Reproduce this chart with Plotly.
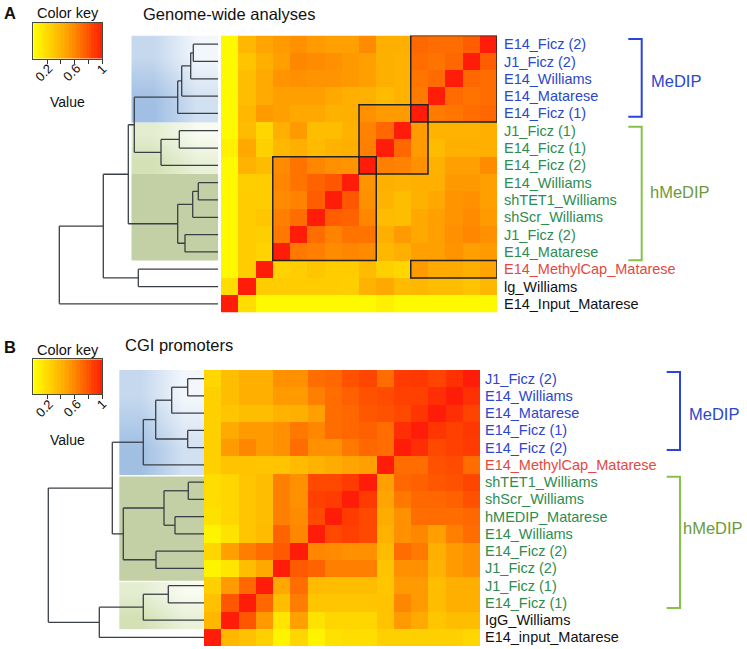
import numpy as np
import plotly.graph_objects as go

W, H = 747, 649
FONT = "Liberation Sans, Arial, Helvetica, sans-serif"

# ---- panel A: genome-wide analyses (rows top to bottom) ----
a_labels = ["E14_Ficz (2)", "J1_Ficz (2)", "E14_Williams", "E14_Matarese", "E14_Ficz (1)",
            "J1_Ficz (1)", "E14_Ficz (1)", "E14_Ficz (2)", "E14_Williams", "shTET1_Williams",
            "shScr_Williams", "J1_Ficz (2)", "E14_Matarese", "E14_MethylCap_Matarese",
            "lg_Williams", "E14_Input_Matarese"]
a_groups = ["MeDIP"] * 5 + ["hMeDIP"] * 8 + ["MethylCap", "ctrl", "ctrl"]

# correlation of each row with the columns left of the diagonal (as drawn)
a_tri = [
    [0.03, 0.38, 0.48, 0.52, 0.56, 0.52, 0.50, 0.50, 0.58, 0.42, 0.42, 0.72, 0.70, 0.70, 0.76],
    [0.03, 0.32, 0.42, 0.50, 0.60, 0.58, 0.56, 0.53, 0.50, 0.42, 0.40, 0.70, 0.68, 0.72],
    [0.03, 0.35, 0.45, 0.55, 0.56, 0.55, 0.55, 0.53, 0.50, 0.42, 0.40, 0.67, 0.71],
    [0.03, 0.35, 0.45, 0.50, 0.50, 0.50, 0.46, 0.42, 0.41, 0.36, 0.40, 0.65],
    [0.03, 0.38, 0.52, 0.50, 0.46, 0.46, 0.41, 0.42, 0.56, 0.52, 0.52],
    [0.03, 0.36, 0.22, 0.42, 0.52, 0.35, 0.35, 0.40, 0.62, 0.72],
    [0.08, 0.46, 0.25, 0.38, 0.42, 0.36, 0.40, 0.42, 0.63],
    [0.03, 0.40, 0.36, 0.58, 0.68, 0.60, 0.56, 0.55],
    [0.03, 0.26, 0.27, 0.60, 0.68, 0.74, 0.78],
    [0.03, 0.27, 0.27, 0.58, 0.62, 0.76],
    [0.03, 0.27, 0.30, 0.63, 0.70],
    [0.03, 0.27, 0.26, 0.66],
    [0.03, 0.27, 0.24],
    [0.03, 0.27],
    [0.18],
    [],
]

# hierarchical merges: (child, child, height); clusters numbered from 16
a_merges = [
    (0, 1, 0.247), (16, 2, 0.273), (17, 3, 0.363), (18, 4, 0.403),
    (5, 6, 0.387), (20, 7, 0.570), (19, 21, 0.837),
    (8, 9, 0.197), (23, 10, 0.253), (11, 12, 0.330), (24, 25, 0.403),
    (22, 26, 0.897), (13, 14, 0.797), (27, 28, 1.147), (29, 15, 1.587),
]
a_blocks = [(0, 4, 11, 15), (4, 7, 8, 11), (7, 12, 3, 8), (13, 13, 11, 15)]  # row0,row1,col0,col1

# ---- panel B: CGI promoters ----
b_labels = ["J1_Ficz (2)", "E14_Williams", "E14_Matarese", "E14_Ficz (1)", "E14_Ficz (2)",
            "E14_MethylCap_Matarese", "shTET1_Williams", "shScr_Williams", "hMEDIP_Matarese",
            "E14_Williams", "E14_Ficz (2)", "J1_Ficz (2)", "J1_Ficz (1)", "E14_Ficz (1)",
            "IgG_Williams", "E14_input_Matarese"]
b_groups = ["MeDIP"] * 5 + ["MethylCap"] + ["hMeDIP"] * 8 + ["ctrl", "ctrl"]

b_tri = [
    [0.22, 0.35, 0.42, 0.42, 0.56, 0.56, 0.70, 0.72, 0.80, 0.84, 0.70, 0.88, 0.89, 0.85, 0.92],
    [0.25, 0.35, 0.42, 0.42, 0.52, 0.52, 0.63, 0.70, 0.75, 0.80, 0.82, 0.86, 0.86, 0.93],
    [0.25, 0.30, 0.35, 0.35, 0.40, 0.42, 0.50, 0.70, 0.72, 0.78, 0.80, 0.83, 0.90],
    [0.25, 0.45, 0.52, 0.52, 0.56, 0.66, 0.60, 0.70, 0.72, 0.75, 0.70, 0.93],
    [0.25, 0.52, 0.60, 0.52, 0.56, 0.70, 0.56, 0.56, 0.66, 0.72, 0.70],
    [0.25, 0.32, 0.32, 0.30, 0.32, 0.36, 0.40, 0.44, 0.48, 0.50],
    [0.18, 0.22, 0.30, 0.35, 0.63, 0.56, 0.83, 0.83, 0.88],
    [0.18, 0.22, 0.30, 0.35, 0.63, 0.56, 0.86, 0.88],
    [0.16, 0.22, 0.30, 0.35, 0.63, 0.58, 0.83],
    [0.06, 0.15, 0.30, 0.36, 0.74, 0.60],
    [0.22, 0.50, 0.64, 0.70, 0.77],
    [0.06, 0.14, 0.35, 0.46],
    [0.25, 0.52, 0.72],
    [0.33, 0.78],
    [0.38],
    [],
]

b_merges = [
    (0, 1, 0.163), (16, 2, 0.323), (3, 4, 0.163), (17, 18, 0.483), (19, 5, 0.607),
    (6, 7, 0.157), (8, 9, 0.290), (21, 22, 0.400), (10, 11, 0.480), (23, 24, 0.807),
    (20, 25, 0.917), (12, 13, 0.357), (27, 14, 0.607), (28, 15, 1.047), (26, 29, 1.557),
]

key_ticks = [0.2, 0.4, 0.6, 0.8, 1.0]
key_labels = ["0.2", "", "0.6", "", "1"]

group_color = {"MeDIP": "#2C46CC", "hMeDIP": "#2E8C4F", "MethylCap": "#E5483E", "ctrl": "#111111"}
heat = [[0, "#FFFF00"], [0.25, "#FFD000"], [0.5, "#FFA000"], [0.63, "#FF8000"],
        [0.75, "#FF6000"], [0.86, "#FF4000"], [1, "#FF1C08"]]

KEY_X = (33.3, 102.3)


def full_matrix(tri):
    n = len(tri)
    m = np.eye(n)
    for i, row in enumerate(tri):
        for k, v in enumerate(row):
            j = n - 1 - k
            m[i, j] = m[j, i] = v
    return m


def dendro_xy(merges, n):
    ypos = {i: float(i) for i in range(n)}
    hgt = {i: 0.0 for i in range(n)}
    xs, ys = [], []
    for k, (a, b, h) in enumerate(merges):
        for c in (a, b):
            xs += [hgt[c], h, None]
            ys += [ypos[c], ypos[c], None]
        xs += [h, h, None]
        ys += [ypos[a], ypos[b], None]
        ypos[n + k] = (ypos[a] + ypos[b]) / 2
        hgt[n + k] = h
    return xs, ys


def grad_box(h, y0, y1, light, dark, xa, ya):
    return go.Heatmap(z=[[0.55, 0.0], [1.0, 0.4]], x=[h, h / 2, 0], y=[y0, (y0 + y1) / 2, y1],
                      zsmooth="best", colorscale=[[0, light], [1, dark]], zmin=0, zmax=1,
                      showscale=False, hoverinfo="skip", xaxis=xa, yaxis=ya)


def dx(p0, p1):
    return [p0 / W, p1 / W]


def dy(p0, p1):
    return [1 - p1 / H, 1 - p0 / H]


fig = go.Figure()
layout = dict(width=W, height=H, autosize=False, margin=dict(l=0, r=0, t=0, b=0),
              paper_bgcolor="white", plot_bgcolor="white", showlegend=False,
              font=dict(family=FONT, color="#111"))
shapes, annots = [], []
hidden = dict(visible=False, showgrid=False, zeroline=False)


def txt(x, y, s, size, color="#111", xanchor="left", bold=False, angle=0):
    annots.append(dict(x=x / W, y=1 - y / H, xref="paper", yref="paper",
                       text=f"<b>{s}</b>" if bold else s, textangle=angle,
                       showarrow=False, xanchor=xanchor, yanchor="middle",
                       font=dict(size=size, color=color, family=FONT)))


panels = [
    dict(lab=a_labels, grp=a_groups, tri=a_tri, mer=a_merges, hx=(221, 497), hy=(35.5, 312.5),
         dl=218, boxes=[("grad", -0.5, 4.5, "#F3F7FC", "#A0BFE3"),
                        ("grad", 4.55, 7.5, "#F8FBF0", "#D3E1B5"),
                        ("solid", 7.5, 12.5, "#C3CFA4", None)], bw=0.865,
         key=(22.7, 58.7), tag="A", tagy=13, keyt=12.5, val=102, title="Genome-wide analyses",
         tsize=16.5, tx=141, ty=14.5, brx=(628.3, 641.7), br=[(-0.3, 4.2), (4.77, 12.48)],
         gl=[(649, 80.7, "MeDIP", "left"), (648, 192.3, "hMeDIP", "left")], blocks=a_blocks,
         stand=6),
    dict(lab=b_labels, grp=b_groups, tri=b_tri, mer=b_merges, hx=(204, 480), hy=(370, 646),
         dl=204, boxes=[("grad", -0.5, 5.6, "#F3F7FC", "#A0BFE3"),
                        ("solid", 5.68, 11.72, "#C3CFA4", None),
                        ("grad", 11.8, 14.5, "#F8FBF0", "#D3E1B5")], bw=0.847,
         key=(359.3, 394), tag="B", tagy=347.5, keyt=350, val=440, title="CGI promoters",
         tsize=16.5, tx=123, ty=345, brx=(666.7, 680), br=[(-0.38, 4.14), (5.69, 13.3)],
         gl=[(687, 414, "MeDIP", "left"), (745, 528.3, "hMeDIP", "right")], blocks=[],
         stand=4),
]

for p_i, p in enumerate(panels):
    n = len(p["lab"])
    hxa, hya = f"x{3 * p_i + 1}", f"y{3 * p_i + 1}"
    dxa, dya = f"x{3 * p_i + 2}", f"y{3 * p_i + 2}"
    kxa, kya = f"x{3 * p_i + 3}", f"y{3 * p_i + 3}"
    nm = lambda a: a.replace("x", "xaxis").replace("y", "yaxis")

    m = full_matrix(p["tri"])
    fig.add_trace(go.Heatmap(z=m[:, ::-1], x=list(range(n)), y=list(range(n)),
                             colorscale=heat, zmin=0, zmax=1, showscale=False,
                             hoverinfo="skip", xaxis=hxa, yaxis=hya))
    ticktext = [f"<span style='color:{group_color[g]}'>{t}</span>"
                for t, g in zip(p["lab"], p["grp"])]
    layout[nm(hxa)] = dict(domain=dx(*p["hx"]), range=[-0.5, n - 0.5], anchor=hya, **hidden)
    layout[nm(hya)] = dict(domain=dy(*p["hy"]), range=[n - 0.5, -0.5], anchor=hxa, side="right",
                           tickmode="array", tickvals=list(range(n)), ticktext=ticktext,
                           ticks="", ticklabelstandoff=p["stand"], showgrid=False, zeroline=False,
                           tickfont=dict(size=14.5, family=FONT))

    # dendrogram with shaded cluster boxes
    left = 40
    hmax = (p["dl"] - left) / 100
    for kind, y0, y1, light, dark in p["boxes"]:
        if kind == "grad":
            fig.add_trace(grad_box(p["bw"], y0, y1, light, dark, dxa, dya))
        else:
            shapes.append(dict(type="rect", xref=dxa, yref=dya, x0=p["bw"], x1=0, y0=y0, y1=y1,
                               fillcolor=light, line_width=0, layer="below"))
    xs, ys = dendro_xy(p["mer"], n)
    fig.add_trace(go.Scatter(x=xs, y=ys, mode="lines", line=dict(color="#3A3F46", width=1.3),
                             hoverinfo="skip", xaxis=dxa, yaxis=dya))
    layout[nm(dxa)] = dict(domain=dx(left, p["dl"]), range=[hmax, 0], anchor=dya, **hidden)
    layout[nm(dya)] = dict(domain=dy(*p["hy"]), range=[n - 0.5, -0.5], anchor=dxa, **hidden)

    # highlighted blocks
    for r0, r1, c0, c1 in p["blocks"]:
        shapes.append(dict(type="rect", xref=hxa, yref=hya, x0=c0 - 0.5, x1=c1 + 0.5,
                           y0=r0 - 0.5, y1=r1 + 0.5, line=dict(color="#222", width=1.5)))

    # colour key
    edges = np.linspace(0, 1, 26)
    fig.add_trace(go.Heatmap(z=[list((edges[:-1] + edges[1:]) / 2)], x=edges, y=[0, 1],
                             colorscale=heat, zmin=0, zmax=1, showscale=False,
                             hoverinfo="skip", xaxis=kxa, yaxis=kya))
    layout[nm(kxa)] = dict(domain=dx(*KEY_X), range=[0, 1], anchor=kya,
                           tickmode="array", tickvals=key_ticks, showticklabels=False,
                           ticks="outside", ticklen=4, tickcolor="#333",
                           showline=True, mirror=True, linecolor="#4A4A3A", linewidth=1,
                           showgrid=False, zeroline=False)
    layout[nm(kya)] = dict(domain=dy(*p["key"]), range=[0, 1], anchor=kxa, showticklabels=False,
                           ticks="", showline=True, mirror=True, linecolor="#4A4A3A",
                           linewidth=1, showgrid=False, zeroline=False)
    kw = KEY_X[1] - KEY_X[0]
    for tv, tl in zip(key_ticks, key_labels):
        if tl:
            one = tl == "1"
            txt(KEY_X[0] + tv * kw - (1 if one else 3), p["key"][1] + (10.5 if one else 14),
                tl, 13, xanchor="center", angle=-45)

    txt(2, p["tagy"], p["tag"], 16.5, bold=True)
    txt(68, p["keyt"], "Color key", 14.5, xanchor="center")
    txt(67, p["val"], "Value", 14, xanchor="center")
    txt(p["tx"], p["ty"], p["title"], p["tsize"])
    for gx, gy, s, anc in p["gl"]:
        txt(gx, gy, s, 16.5, color="#2C46CC" if s == "MeDIP" else "#6C9A3A", xanchor=anc)

    # group brackets
    bx0, bx1 = p["brx"]
    for (y0, y1), col in zip(p["br"], ["#2B45D6", "#86C24A"]):
        shapes.append(dict(type="path", xref="paper", yref=hya,
                           path=f"M {bx0 / W},{y0} L {bx1 / W},{y0} L {bx1 / W},{y1} L {bx0 / W},{y1}",
                           line=dict(color=col, width=2)))

layout["shapes"] = shapes
layout["annotations"] = annots
fig.update_layout(**layout)
fig.write_html("out.html", config={"displayModeBar": False, "responsive": False},
               post_script="document.body.style.margin='0px';"
                           "document.body.style.overflow='hidden';")
